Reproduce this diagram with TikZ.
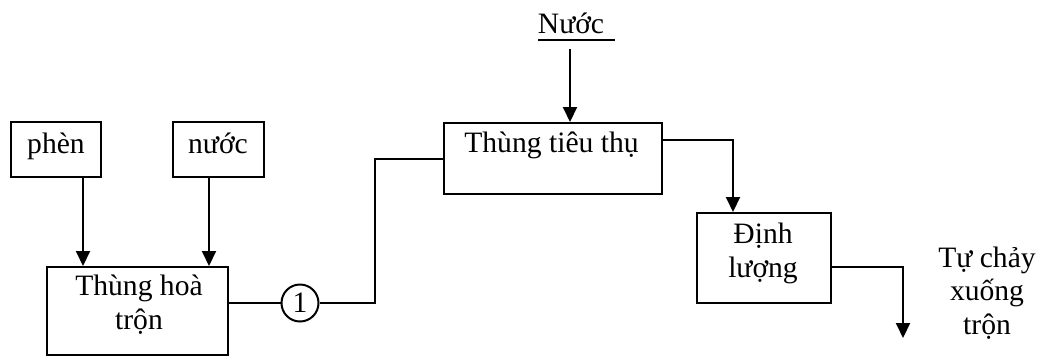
\documentclass[tikz,border=0pt]{standalone}
\usepackage{fontspec}
\setmainfont{Liberation Serif}
\usetikzlibrary{arrows.meta}
\begin{document}
\begin{tikzpicture}[x=1pt,y=-1pt,
  every node/.style={font=\fontsize{29.6}{33.5}\selectfont},
  line/.style={line width=2pt},
  arr/.style={line width=2pt,-{Triangle[length=15pt,width=14pt]}},
  box/.style={draw,line width=2pt,rectangle,inner sep=0pt},
  txt/.style={anchor=base,inner sep=0pt,align=center}]
\useasboundingbox (0,0) rectangle (1041,357);

% boxes
\node[box,minimum width=90pt,minimum height=55pt] (phen) at (56,149.5) {};
\node[box,minimum width=91pt,minimum height=55pt] (nuocbox) at (218.5,149.5) {};
\node[box,minimum width=181pt,minimum height=88pt] (hoa) at (137.5,311) {};
\node[box,minimum width=218pt,minimum height=71pt] (tieu) at (553,158.5) {};
\node[box,minimum width=134pt,minimum height=90pt] (dinh) at (764,258) {};
\node[draw,line width=2pt,circle,inner sep=0pt,minimum size=37pt] (c1) at (300,303) {1};

% box texts (base anchor sits on the last line)
\node[txt] (tphen) at (56,153) {phèn};
\node[txt] (tnuoc) at (218,153) {nước};
\node[txt] (thoa) at (139,329) {Thùng hoà\\trộn};
\node[txt] (ttieu) at (551.5,152) {Thùng tiêu thụ};
\node[txt] (tdinh) at (763,277) {Định\\lượng};

% free labels
\node[txt] (Nuoc) at (571,33) {Nước};
\node[txt] (tu) at (987,334) {Tự chảy\\xuống\\trộn};
\draw[line width=1.8pt] ([xshift=-33pt,yshift=-7pt]Nuoc.base) -- ([xshift=44pt,yshift=-7pt]Nuoc.base);

% connectors
\coordinate (nsrc) at (570,49);
\coordinate (out) at (903,338);
\draw[arr] (phen.south -| 83,0) -- (hoa.north -| 83,0);
\draw[arr] (nuocbox.south -| 209,0) -- (hoa.north -| 209,0);
\draw[line] (hoa.east |- c1.west) -- (c1.west);
\draw[line] (c1.east) -- ++(55,0) |- (tieu.west);
\draw[arr] (nsrc) -- (tieu.north -| nsrc);
\draw[arr] ([yshift=18.5pt]tieu.east) -| ([xshift=-31pt]dinh.north);
\draw[arr] ([yshift=-9pt]dinh.east) -| (out);
\end{tikzpicture}
\end{document}
